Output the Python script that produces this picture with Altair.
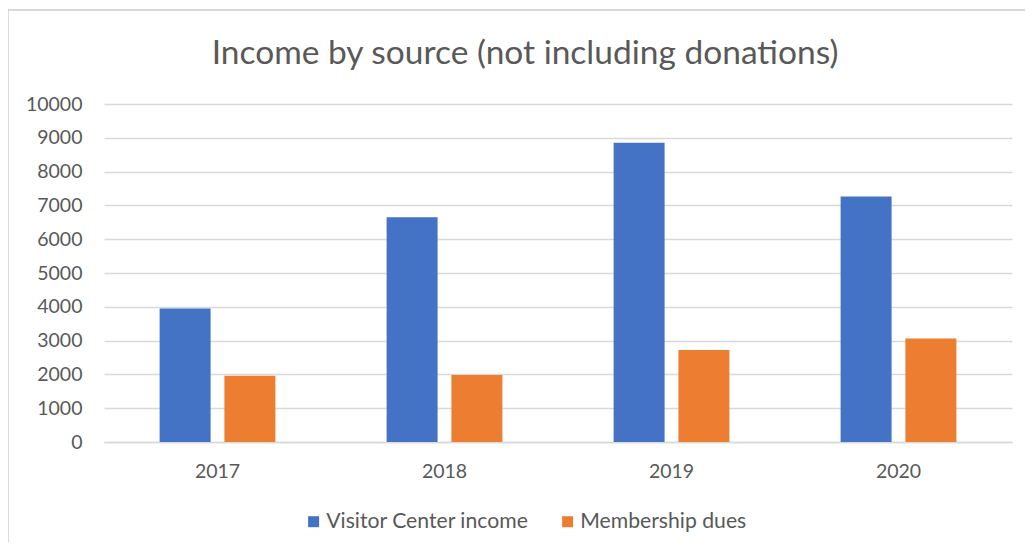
import altair as alt
import pandas as pd

years = ["2017", "2018", "2019", "2020"]
visitor_center = [3950, 6650, 8850, 7260]
membership_dues = [1960, 1980, 2720, 3060]
series_names = ["Visitor Center income", "Membership dues"]
series_colors = ["#4472C4", "#ED7D31"]
y_ticks = list(range(0, 10001, 1000))

rows = []
for i, y in enumerate(years):
    rows.append({"Year": y, "Series": series_names[0], "Value": visitor_center[i]})
    rows.append({"Year": y, "Series": series_names[1], "Value": membership_dues[i]})
df = pd.DataFrame(rows)

FONT = "Lato"
GREY = "#595959"

bars = alt.Chart(df).mark_bar().encode(
    x=alt.X("Year:N", sort=years,
            scale=alt.Scale(paddingInner=0.49, paddingOuter=0.245),
            axis=alt.Axis(title=None, labelAngle=0, ticks=False, domain=True,
                          domainColor="#d9d9d9", domainWidth=1.3,
                          labelFontSize=19.5, labelColor=GREY, labelFont=FONT,
                          labelPadding=20, grid=False)),
    xOffset=alt.XOffset("Series:N", sort=series_names,
                        scale=alt.Scale(paddingInner=0.213, paddingOuter=0)),
    y=alt.Y("Value:Q", scale=alt.Scale(domain=[0, 10000], nice=False),
            axis=alt.Axis(title=None, values=y_ticks, ticks=False, domain=False,
                          format="d",
                          labelFontSize=19.5, labelColor=GREY, labelFont=FONT,
                          labelPadding=22, gridColor="#d9d9d9", gridWidth=1.3)),
    color=alt.Color("Series:N", sort=series_names,
                    scale=alt.Scale(domain=series_names, range=series_colors),
                    legend=alt.Legend(title=None, orient="none", direction="horizontal",
                                      legendX=199, legendY=407,
                                      symbolType="square", symbolSize=121,
                                      symbolStrokeWidth=0, labelLimit=0,
                                      labelFontSize=21.2, labelColor=GREY, labelFont=FONT,
                                      columnPadding=28, labelOffset=2)),
)

frame = alt.Chart(pd.DataFrame({"a": [0]})).mark_rect(
    fill=None, stroke="#d9d9d9", strokeWidth=2
).encode(
    x=alt.value(-96), x2=alt.value(940), y=alt.value(-94), y2=alt.value(460)
)

chart = alt.layer(frame, bars).properties(
    width=908, height=338,
    autosize=alt.AutoSizeParams(type="none"),
    padding={"left": 96, "top": 96, "right": 13, "bottom": 100},
    title=alt.Title("Income by source (not including donations)",
                    fontSize=33.5, font=FONT, fontWeight="normal", color=GREY,
                    anchor="middle", dx=-33, offset=-62),
).configure_view(stroke=None)

chart.save("out.html", embed_options={"renderer": "svg", "actions": False})
